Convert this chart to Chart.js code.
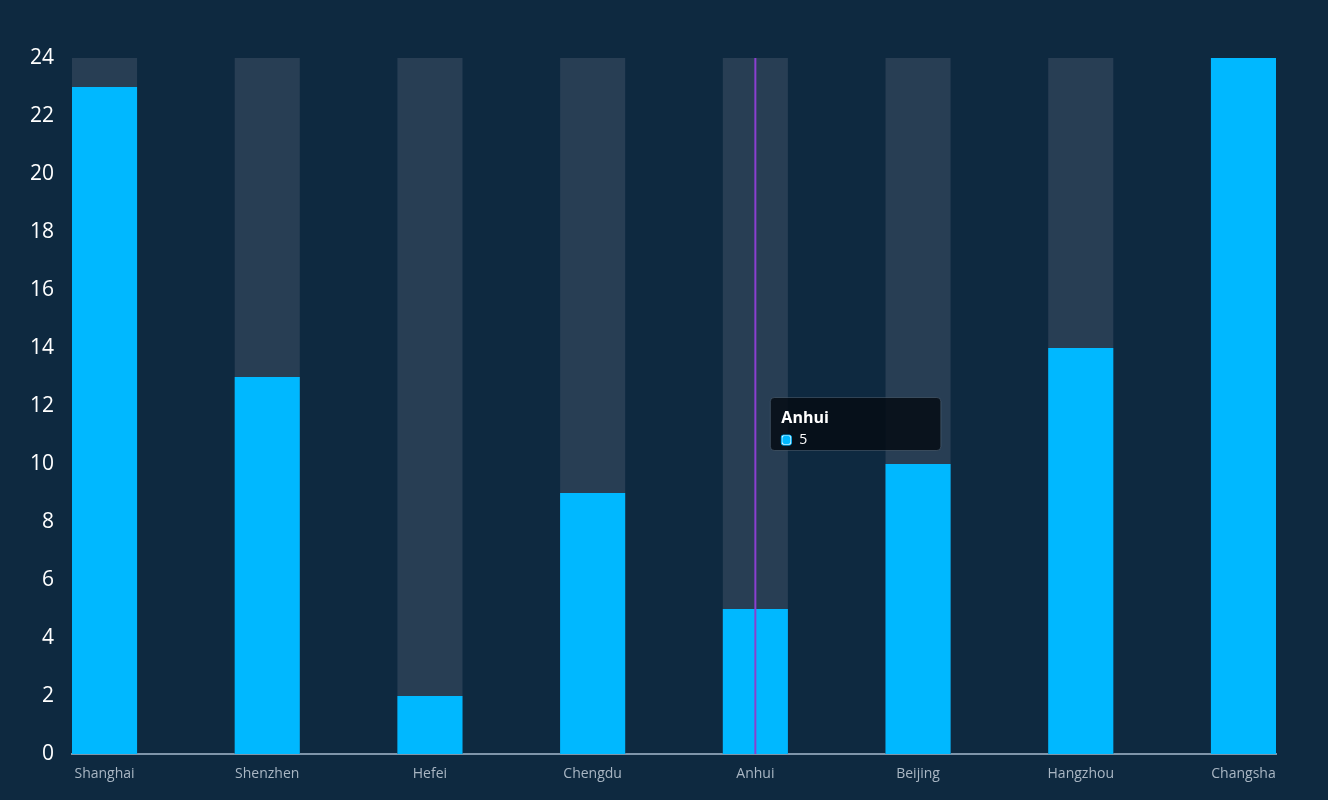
<!DOCTYPE html>
<html>
<head>
<meta charset="utf-8">
<script src="https://cdn.jsdelivr.net/npm/chart.js@4.4.0/dist/chart.umd.min.js"></script>
<style>
html,body{margin:0;padding:0;background:#0e2940;}
#wrap{width:1328px;height:800px;position:relative;}
</style>
</head>
<body>
<div id="wrap"><canvas id="c" width="1328" height="800"></canvas></div>
<script>
const categories = ['Shanghai','Shenzhen','Hefei','Chengdu','Anhui','Beijing','Hangzhou','Changsha'];
const values = [23, 13, 2, 9, 5, 10, 14, 24];
const maxValues = [24, 24, 24, 24, 24, 24, 24, 24];
const yTicks = [0, 2, 4, 6, 8, 10, 12, 14, 16, 18, 20, 22, 24];
const activeIndex = 4;

Chart.Tooltip.positioners.besideLine = function(items) {
  if (!items.length) return false;
  const area = this.chart.chartArea;
  return { x: items[0].element.x + 15, y: (area.top + area.bottom) / 2 + 18 };
};

const linePlugin = {
  id: 'activeLine',
  afterDatasetsDraw(chart) {
    const act = chart.getActiveElements();
    if (!act.length) return;
    const x = act[0].element.x;
    const ctx = chart.ctx;
    ctx.save();
    ctx.strokeStyle = '#8b3fd0';
    ctx.lineWidth = 2;
    ctx.beginPath();
    ctx.moveTo(x, chart.chartArea.top);
    ctx.lineTo(x, chart.chartArea.bottom);
    ctx.stroke();
    ctx.restore();
  }
};

const chart = new Chart(document.getElementById('c'), {
  type: 'bar',
  data: {
    datasets: [
      {
        data: values.map((v, i) => ({x: i, y: v})),
        backgroundColor: '#00b8ff',
        hoverBackgroundColor: '#00b8ff',
        grouped: false,
        barPercentage: 0.4,
        categoryPercentage: 1
      },
      {
        data: maxValues.map((v, i) => ({x: i, y: v})),
        backgroundColor: '#283e54',
        hoverBackgroundColor: '#283e54',
        grouped: false,
        barPercentage: 0.4,
        categoryPercentage: 1
      }
    ]
  },
  options: {
    responsive: false,
    animation: false,
    events: [],
    layout: { padding: { top: 58, right: 52, bottom: 0, left: 0 } },
    plugins: {
      legend: { display: false },
      tooltip: {
        enabled: true,
        position: 'besideLine',
        xAlign: 'left',
        yAlign: 'center',
        caretSize: 0,
        caretPadding: 0,
        filter: item => item.datasetIndex === 0,
        backgroundColor: 'rgba(5,12,20,0.85)',
        borderColor: 'rgba(120,140,160,0.35)',
        borderWidth: 1,
        cornerRadius: 4,
        padding: { top: 11, bottom: 2, left: 11, right: 112 },
        titleColor: '#ffffff',
        titleFont: { family: 'Open Sans', size: 16, weight: 'bold' },
        titleMarginBottom: 4,
        bodyColor: '#ffffff',
        bodyFont: { family: 'Open Sans', size: 14 },
        boxWidth: 10,
        boxHeight: 10,
        boxPadding: 6,
        usePointStyle: false,
        callbacks: {
          title: items => categories[items[0].parsed.x],
          label: item => String(item.parsed.y),
          labelColor: () => ({ borderColor: '#00b8ff', backgroundColor: '#00b8ff', borderWidth: 0, borderRadius: 2 })
        }
      }
    },
    scales: {
      x: {
        type: 'linear',
        offset: false,
        min: -0.2,
        max: categories.length - 1 + 0.2,
        afterBuildTicks: s => { s.ticks = categories.map((c, i) => ({ value: i })); },
        afterFit: s => { s.height = 46; },
        grid: { display: false, offset: false },
        border: { display: true, color: '#7f95aa', width: 2 },
        ticks: {
          color: '#a9b6c3',
          font: { family: 'Open Sans', size: 14 },
          padding: 4,
          maxRotation: 0,
          autoSkip: false,
          callback: v => categories[v] ?? ''
        }
      },
      y: {
        min: 0,
        max: 24,
        afterBuildTicks: s => { s.ticks = yTicks.map(v => ({ value: v })); },
        afterFit: s => { s.width = 72; },
        grid: { display: false },
        border: { display: true, color: '#7f95aa', width: 1 },
        ticks: {
          color: '#ffffff',
          font: { family: 'Open Sans', size: 21 },
          padding: 10
        }
      }
    }
  },
  plugins: [linePlugin]
});

chart.setActiveElements([{ datasetIndex: 0, index: activeIndex }]);
chart.tooltip.setActiveElements([{ datasetIndex: 0, index: activeIndex }], { x: 0, y: 0 });
chart.update();
</script>
</body>
</html>
